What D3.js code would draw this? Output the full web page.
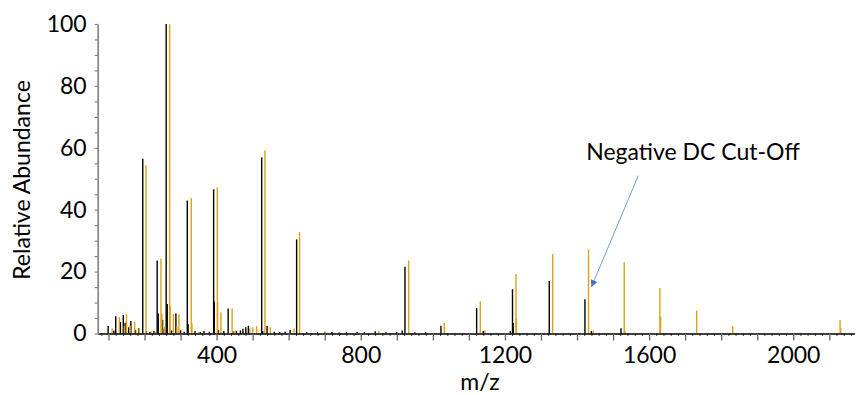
<!DOCTYPE html>
<html>
<head>
<meta charset="utf-8">
<script src="https://cdn.jsdelivr.net/npm/d3@7/dist/d3.min.js"></script>
<style>
  html, body { margin: 0; padding: 0; background: #fff; }
  svg { display: block; }
  text { font-family: Lato, "Open Sans", sans-serif; fill: #000; }
</style>
</head>
<body>
<svg id="chart" width="857" height="395"></svg>
<script>
// Black series (sample 1): [m/z, relative abundance]
const blackMz = [99, 115, 120, 133, 141, 146, 156, 162, 175, 184, 195, 205, 215, 226, 235, 238, 250, 255, 260, 263, 275, 287, 300, 310, 318.6, 321, 340, 355, 365, 380, 391.7, 393.5, 405, 420, 432, 445, 455, 466, 473, 481, 488, 525, 528, 540, 560, 575, 590, 604, 622, 650, 680, 700, 720, 740, 760, 790, 810, 840, 870, 900, 915, 922.6, 950, 980, 1022.5, 1121.5, 1140, 1215, 1221, 1223, 1323, 1422, 1440, 1522];
const blackAb = [2.4, 1.0, 5.6, 3.7, 6.0, 3.5, 2.0, 4.0, 1.2, 1.7, 56.5, 0.8, 0.6, 0.8, 23.6, 6.5, 4.4, 1.5, 100, 9.5, 1.0, 6.5, 1.0, 0.6, 43, 3.0, 0.8, 0.5, 0.8, 0.6, 46.6, 10.3, 1.1, 0.8, 8.1, 0.7, 0.8, 1.0, 1.5, 2.0, 2.5, 56.9, 0.8, 2.4, 0.6, 0.5, 0.6, 1.1, 30.4, 0.4, 0.4, 0.5, 0.5, 0.3, 0.5, 0.6, 0.4, 0.7, 0.4, 0.5, 1.0, 21.6, 0.4, 0.4, 2.5, 8.2, 0.8, 0.8, 14.3, 3.4, 17, 11.1, 0.8, 1.7];

// Orange series (sample 2): [m/z, relative abundance]
const orangeMz = [110, 130, 144, 150, 160, 172.6, 185, 204, 218, 230, 245.6, 248, 256, 269.6, 271, 280, 290, 295.5, 329.7, 331.6, 350, 401.9, 402.8, 412, 443, 450, 492, 500, 511, 534, 549, 615, 630.3, 700, 850, 932.8, 1031.7, 1131.6, 1144, 1230.6, 1232, 1332.4, 1432, 1445, 1531, 1533, 1630, 1632, 1732, 1832, 2130, 2132];
const orangeAb = [1.7, 5.2, 2.4, 6.4, 2.5, 3.8, 1.6, 54.4, 0.7, 0.5, 24.2, 6.3, 2.0, 99.9, 9.1, 6.3, 2.0, 6.2, 43.8, 3.3, 0.6, 47.2, 10.0, 6.9, 8.1, 0.8, 1.7, 2.0, 2.4, 59.2, 2.0, 1.6, 32.8, 0.7, 0.8, 23.6, 3.4, 10.4, 1.0, 19.2, 5.0, 25.7, 27.2, 1.0, 23.0, 1.0, 14.7, 5.4, 7.4, 2.4, 4.4, 1.8];

const xMajorTicks = d3.range(100, 2101, 100);
const xLabelTicks = [400, 800, 1200, 1600, 2000];
const yTicks = d3.range(0, 101, 5);
const yLabelTicks = [0, 20, 40, 60, 80, 100];
const xTitle = "m/z";
const yTitle = "Relative Abundance";
const annotationText = "Negative DC Cut-Off";
const annotationTarget = [1440, 15]; // arrow tip in data coords (m/z, abundance)
const annotationFrom = [1570, 51];  // arrow start in data coords

const svg = d3.select("#chart");
const FS = 23;

const x = d3.scaleLinear().domain([70, 2170]).range([97.7, 854.5]);
const y = d3.scaleLinear().domain([0, 100]).range([333.5, 24]);

// Bars
function drawSeries(mz, ab, color) {
  const data = mz.map((m, i) => ({ m, a: ab[i] }));
  svg.append("g").selectAll("line").data(data).join("line")
    .attr("x1", d => x(d.m)).attr("x2", d => x(d.m))
    .attr("y1", y(0)).attr("y2", d => y(d.a))
    .attr("stroke", color).attr("stroke-width", 1.4);
}
drawSeries(blackMz, blackAb, "#000");
drawSeries(orangeMz, orangeAb, "#E2A013");

// X axis minor ticks
const xMinor = d3.range(80, 2161, 20).filter(v => v % 100 !== 0);
svg.append("g").attr("transform", `translate(0,${y(0)})`)
  .call(d3.axisBottom(x).tickValues(xMinor).tickSize(2.5).tickFormat(""))
  .call(g => g.select(".domain").remove())
  .call(g => g.selectAll("line").attr("stroke", "#444"));

// X axis major
const xAxis = svg.append("g").attr("transform", `translate(0,${y(0)})`)
  .call(d3.axisBottom(x).tickValues(xMajorTicks).tickSize(7).tickSizeOuter(0).tickPadding(6)
    .tickFormat(d => xLabelTicks.includes(d) ? d : ""));
xAxis.select(".domain").attr("stroke", "#000").attr("stroke-width", 1.6);
xAxis.selectAll(".tick line").attr("stroke", "#666").attr("stroke-width", 1.3);
xAxis.selectAll("text").style("font-size", FS + "px").style("font-family", "Lato");

// Y axis
const yAxis = svg.append("g").attr("transform", `translate(${x(70)},0)`)
  .call(d3.axisLeft(y).tickValues(yTicks).tickSize(3).tickSizeOuter(0).tickPadding(8)
    .tickFormat(d => yLabelTicks.includes(d) ? d : ""));
yAxis.select(".domain").attr("stroke", "#808080").attr("stroke-width", 1.6);
yAxis.selectAll(".tick line").attr("stroke", "#808080").attr("stroke-width", 1.2);
yAxis.selectAll("text").style("font-size", FS + "px").style("font-family", "Lato");

// Titles
svg.append("text").attr("x", 480).attr("y", 390).attr("text-anchor", "middle")
  .style("font-size", FS + "px").text(xTitle);
svg.append("text").attr("transform", "translate(30,180) rotate(-90)")
  .attr("text-anchor", "middle").style("font-size", FS + "px").text(yTitle);

// Annotation
svg.append("text").attr("x", 693).attr("y", 160).attr("text-anchor", "middle")
  .style("font-size", FS + "px").text(annotationText);

const defs = svg.append("defs");
defs.append("marker").attr("id", "arrow").attr("viewBox", "0 0 10 10")
  .attr("refX", 10).attr("refY", 5).attr("markerWidth", 9).attr("markerHeight", 7)
  .attr("markerUnits", "userSpaceOnUse").attr("orient", "auto")
  .append("path").attr("d", "M0,0 L10,5 L0,10 Z").attr("fill", "#4472C4");

svg.append("line")
  .attr("x1", x(annotationFrom[0])).attr("y1", y(annotationFrom[1]))
  .attr("x2", x(annotationTarget[0])).attr("y2", y(annotationTarget[1]))
  .attr("stroke", "#7A9CD6").attr("stroke-width", 1)
  .attr("marker-end", "url(#arrow)");
</script>
</body>
</html>
